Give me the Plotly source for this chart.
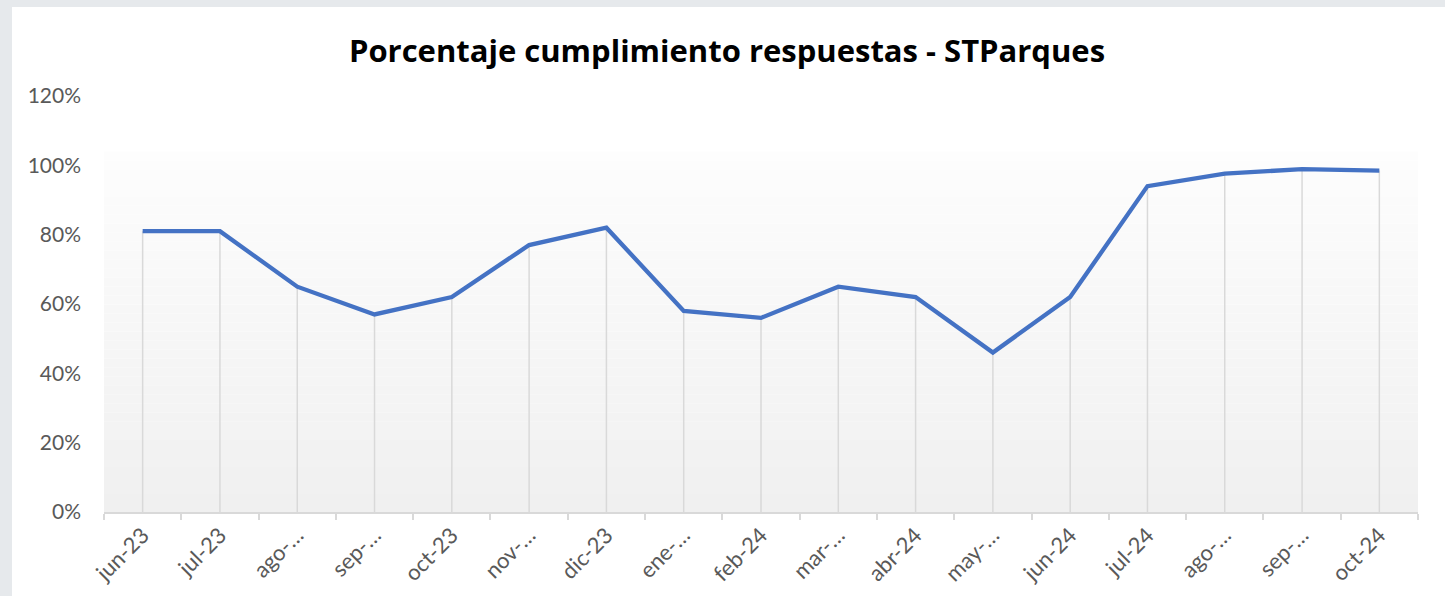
import plotly.graph_objects as go

# ---- data ----
categories = ["jun-23", "jul-23", "ago-…", "sep-…", "oct-23", "nov-…", "dic-23",
              "ene-…", "feb-24", "mar-…", "abr-24", "may-…", "jun-24", "jul-24",
              "ago-…", "sep-…", "oct-24"]
values = [0.81, 0.81, 0.65, 0.57, 0.62, 0.77, 0.82, 0.58, 0.56, 0.65, 0.62,
          0.46, 0.62, 0.94, 0.976, 0.989, 0.985]
y_ticks = [0, 0.2, 0.4, 0.6, 0.8, 1.0, 1.2]
title_text = "Porcentaje cumplimiento respuestas - STParques"

W, H = 1445, 596
L, R, T, B = 104, 27, 96, 84
PW, PH = W - L - R, H - T - B
FONT = "Lato, 'Open Sans', sans-serif"
xs = list(range(len(categories)))

fig = go.Figure()

# drop lines from each point down to the axis
dx, dy = [], []
for i, v in zip(xs, values):
    dx += [i, i, None]
    dy += [0, v, None]
fig.add_trace(go.Scatter(x=dx, y=dy, mode="lines",
                         line=dict(color="#d9d9d9", width=1.5),
                         hoverinfo="skip", showlegend=False))

fig.add_trace(go.Scatter(x=xs, y=values, mode="lines",
                         line=dict(color="#4472c4", width=4.3),
                         showlegend=False))

shapes = []
# background card (white, from x=12px, y=7px to the edges)
shapes.append(dict(type="rect", xref="paper", yref="paper",
                   x0=-(L - 12) / PW, x1=1 + (R + 20) / PW,
                   y0=-(B + 20) / PH, y1=1 + (T - 7) / PH,
                   fillcolor="white", line=dict(width=0), layer="below"))
# gradient plot-area fill built from bands
n = 40
top = 1.04
c_top = (253, 253, 253)
c_bot = (240, 240, 240)
for k in range(n):
    y0 = top * k / n
    y1 = top * (k + 1) / n
    t = (k + 0.5) / n
    c = tuple(round(c_bot[j] + (c_top[j] - c_bot[j]) * t) for j in range(3))
    shapes.append(dict(type="rect", xref="x domain", yref="y",
                       x0=0, x1=1, y0=y0, y1=y1,
                       fillcolor="rgb(%d,%d,%d)" % c, line=dict(width=0),
                       layer="below"))

fig.update_layout(
    width=W, height=H,
    margin=dict(l=L, r=R, t=T, b=B),
    paper_bgcolor="#e6e9ec",
    plot_bgcolor="rgba(0,0,0,0)",
    shapes=shapes,
    font=dict(family=FONT, color="#595959"),
    title=dict(text="<b>" + title_text + "</b>", x=727 / W, xref="container",
               y=1 - 51 / H, yref="container", xanchor="center", yanchor="middle",
               font=dict(family="'Open Sans', sans-serif", size=31, color="black")),
    xaxis=dict(
        range=[-0.5, len(categories) - 0.5],
        tickvals=xs, ticktext=categories, tickangle=-45,
        ticks="", showgrid=False, zeroline=False,
        showline=True, linecolor="#d9d9d9", linewidth=1.5,
        automargin=False,
        tickfont=dict(size=22, color="#595959"),
        minor=dict(tickvals=[i - 0.5 for i in range(len(categories) + 1)],
                   ticks="outside", ticklen=6, tickcolor="#d9d9d9",
                   tickwidth=1.5, showgrid=False),
    ),
    yaxis=dict(
        range=[0, 1.2], tickvals=y_ticks, tickformat=".0%",
        showgrid=False, zeroline=False, showline=False, ticks="",
        automargin=False, ticklabelstandoff=22,
        tickfont=dict(size=21, color="#595959"),
    ),
)

fig.write_html(
    "out.html",
    config={"displayModeBar": False},
    post_script="document.body.style.margin='0';document.body.style.background='#e6e9ec';",
)
